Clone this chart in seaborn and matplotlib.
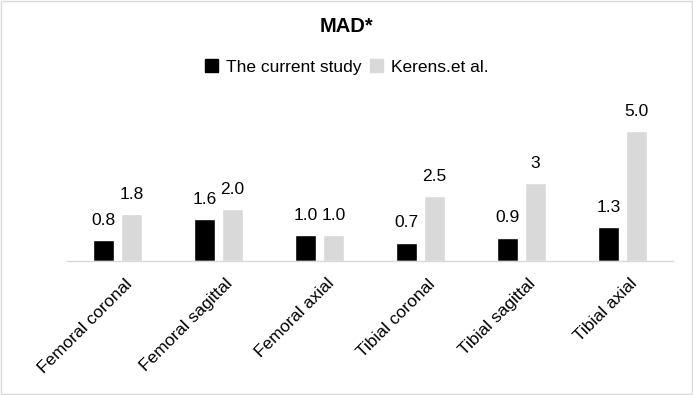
import pandas as pd
import matplotlib.pyplot as plt
import seaborn as sns
from matplotlib.patches import Rectangle
from matplotlib.transforms import ScaledTranslation

# Datos del grafico
categorias = ["Femoral coronal", "Femoral sagittal", "Femoral axial",
              "Tibial coronal", "Tibial sagittal", "Tibial axial"]
estudio_actual = [0.8, 1.6, 1.0, 0.7, 0.9, 1.3]
kerens = [1.8, 2.0, 1.0, 2.5, 3, 5.0]
etiquetas_actual = ["0.8", "1.6", "1.0", "0.7", "0.9", "1.3"]
etiquetas_kerens = ["1.8", "2.0", "1.0", "2.5", "3", "5.0"]
series = ["The current study", "Kerens.et al."]

df = pd.DataFrame({
    "Categoria": categorias * 2,
    "Valor": estudio_actual + kerens,
    "Serie": [series[0]] * len(categorias) + [series[1]] * len(categorias),
})

sns.set_style("white")
plt.rcParams["font.family"] = ["Liberation Sans", "DejaVu Sans"]
plt.rcParams["text.color"] = "#000000"

fig = plt.figure(figsize=(6.93, 3.95), dpi=100)
ax = fig.add_axes([67 / 693, 134 / 395, 606 / 693, 156 / 395])

sns.barplot(data=df, x="Categoria", y="Valor", hue="Serie",
            palette=["#000000", "#d9d9d9"], width=0.545, gap=0.236,
            saturation=1, ax=ax, legend=True)

ax.set_ylim(0, 6)
ax.set_xlim(-0.5, len(categorias) - 0.5)
ax.set_xlabel("")
ax.set_ylabel("")
ax.set_yticks([])
for lado in ["top", "right", "left"]:
    ax.spines[lado].set_visible(False)
ax.spines["bottom"].set_color("#d9d9d9")
ax.spines["bottom"].set_linewidth(1)
ax.tick_params(axis="x", length=0, pad=6)

desplazamiento = ScaledTranslation(12 / 100, -12 / 100, fig.dpi_scale_trans)
for etiqueta in ax.get_xticklabels():
    etiqueta.set_rotation(45)
    etiqueta.set_ha("right")
    etiqueta.set_va("center")
    etiqueta.set_rotation_mode("anchor")
    etiqueta.set_fontsize(12.5)
    etiqueta.set_color("#000000")
    etiqueta.set_transform(etiqueta.get_transform() + desplazamiento)

for cont, textos in zip(ax.containers, [etiquetas_actual, etiquetas_kerens]):
    ax.bar_label(cont, labels=textos, padding=9, fontsize=12.5, color="#000000")

ax.get_legend().remove()
handles = [Rectangle((0, 0), 1, 1, color="#000000"),
           Rectangle((0, 0), 1, 1, color="#d9d9d9")]
fig.legend(handles, series, loc="center", bbox_to_anchor=(0.5, 1 - 67 / 395),
           ncol=2, frameon=False, fontsize=12.5, handlelength=0.75,
           handleheight=0.75, handletextpad=0.45, columnspacing=0.5,
           labelcolor="#000000")

fig.text(0.5, 1 - 27 / 395, "MAD*", ha="center", va="center",
         fontsize=14.5, fontweight="bold", color="#000000")

# Borde del grafico
fig.patches.append(Rectangle((0.002, 0.003), 0.996, 0.994, transform=fig.transFigure,
                             fill=False, edgecolor="#d9d9d9", linewidth=1))

fig.savefig("out.png", dpi=100)
